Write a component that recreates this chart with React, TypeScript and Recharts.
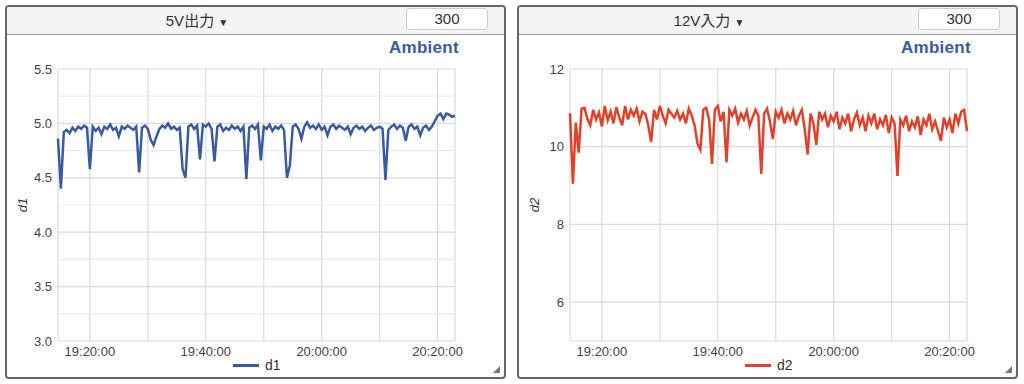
import React from "react";
import {
  LineChart,
  Line,
  XAxis,
  YAxis,
  CartesianGrid,
  ReferenceLine,
} from "recharts";

// sampling: one reading every 30 s starting 19:14:30
const startClock = "19:14:30";
const stepSeconds = 30;

const d1Values = [
  4.86, 4.4, 4.92, 4.94, 4.91, 4.96, 4.93, 4.97, 4.95, 4.98,
  4.96, 4.58, 4.97, 4.93, 4.96, 4.9, 4.97, 4.95, 4.99, 4.94,
  4.96, 4.88, 4.97, 4.95, 4.98, 4.96, 4.94, 4.97, 4.55, 4.96,
  4.98, 4.95, 4.85, 4.8, 4.88, 4.95, 4.98, 4.96, 5.0, 4.95,
  4.97, 4.94, 4.96, 4.58, 4.5, 4.97, 4.99, 4.95, 4.98, 4.67,
  4.99, 4.97, 5.0, 4.95, 4.65, 4.97, 4.99, 4.93, 4.96, 4.94,
  4.98, 4.95, 4.97, 4.93, 4.97, 4.49, 4.96, 4.98, 4.95, 4.99,
  4.66, 4.97, 4.95, 4.99, 4.93, 4.97, 4.95, 4.98, 4.94, 4.5,
  4.61, 4.97, 4.99, 4.95, 4.86, 4.97, 5.01, 4.96, 4.98, 4.95,
  4.99, 4.94, 4.97, 4.89, 4.97, 4.99, 4.95, 4.98, 4.96, 4.94,
  4.97, 4.9, 4.96, 4.98, 4.95, 4.97, 4.93, 4.96, 4.98, 4.94,
  4.96, 4.97, 4.95, 4.48, 4.94, 4.97, 4.99, 4.95, 4.98, 4.96,
  4.84, 4.97, 4.99, 4.95, 4.97, 4.89, 4.96, 4.98, 4.94, 4.97,
  5.02, 5.07, 5.09, 5.04, 5.09, 5.08, 5.06, 5.07,
];

const d2Values = [
  10.86, 9.05, 10.62, 9.85, 10.98, 11.0, 10.72, 10.55, 10.95, 10.7,
  10.88, 10.52, 11.05, 10.68, 10.9, 10.6, 11.02, 10.75, 10.55, 11.05,
  10.7, 10.95, 10.8, 10.98, 10.65, 10.9, 10.85, 10.55, 10.12, 10.95,
  10.7, 11.05, 10.8, 10.6, 10.95, 10.85, 10.75, 10.92, 10.7, 10.85,
  10.6, 10.98, 10.8, 10.55, 10.08, 9.92, 10.95, 11.0, 10.7, 9.56,
  10.95, 11.05, 10.65, 10.9, 9.6, 10.95, 10.8, 10.98, 10.62, 10.85,
  10.7, 10.92, 10.55, 10.75, 10.95, 10.8, 9.3, 10.85, 10.98, 10.65,
  10.2, 10.9, 10.75, 10.95, 10.6, 10.85, 10.7, 10.92, 10.55, 10.8,
  10.95, 10.45, 9.8, 10.85, 10.6, 10.05, 10.9, 10.7, 10.85, 10.5,
  10.8, 10.65, 10.9, 10.45, 10.75, 10.6, 10.85, 10.4, 10.7, 10.88,
  10.55, 10.75, 10.4, 10.8, 10.6, 10.85, 10.45, 10.7, 10.55, 10.82,
  10.35, 10.75, 10.6, 9.25, 10.7, 10.55, 10.8, 10.4, 10.65, 10.5,
  10.78, 10.3, 10.7, 10.55, 10.85, 10.45, 10.65, 10.4, 10.15, 10.75,
  10.5, 10.7, 10.35, 10.85, 10.6, 10.9, 10.95, 10.4,
];

const gridClocks = ["19:20", "19:30", "19:40", "19:50", "20:00", "20:10", "20:20"];
const labelClocks = ["19:20", "19:40", "20:00", "20:20"];

const d1Ticks = [3.0, 3.5, 4.0, 4.5, 5.0, 5.5];
const d1Minor = [3.25, 3.75, 4.25, 4.75, 5.25];
const d2Ticks = [6, 8, 10, 12];

const toMinutes = (clock: string) => {
  const [h, m, s] = clock.split(":").map(Number);
  return h * 60 + m + (s || 0) / 60;
};

const startMin = toMinutes(startClock);
const xTicks = gridClocks.map(toMinutes);
const xLabels = labelClocks.map(toMinutes);

const fmtClock = (v: number) => {
  if (!xLabels.some((l) => Math.abs(l - v) < 1e-6)) return "";
  const h = Math.floor(v / 60);
  const m = Math.round(v - h * 60);
  return `${h}:${String(m).padStart(2, "0")}:00`;
};

const FONT = "'Liberation Sans', Arial, 'Noto Sans CJK JP', sans-serif";

interface PanelProps {
  left: number;
  title: string;
  name: string;
  values: number[];
  color: string;
  domain: [number, number];
  ticks: number[];
  minor: number[];
  tickFmt: (v: number) => string;
}

const Panel: React.FC<PanelProps> = ({ left, title, name, values, color, domain, ticks, minor, tickFmt }) => {
  const data = values.map((v, i) => ({ t: startMin + (i * stepSeconds) / 60, [name]: v }));
  return (
    <div style={{
      position: "absolute", left, top: 5, width: 501, height: 374,
      boxSizing: "border-box", border: "2px solid #666", borderRadius: 4,
      background: "#fff", overflow: "hidden", fontFamily: FONT,
    }}>
      <div style={{
        position: "absolute", left: 0, top: 0, width: 497, height: 27,
        background: "#f4f4f4", borderBottom: "1px solid #9a9a9a",
      }}>
        <div style={{
          position: "absolute", left: 0, width: 380, top: 4, textAlign: "center",
          fontSize: 15, color: "#333", lineHeight: "20px",
        }}>
          {title} <span style={{ fontSize: 10 }}>▼</span>
        </div>
        <div style={{
          position: "absolute", left: 399, top: 1, width: 82, height: 22,
          boxSizing: "border-box", background: "#fff", border: "1px solid #ccc",
          borderRadius: 4, textAlign: "center", fontSize: 15, lineHeight: "20px", color: "#333",
        }}>
          300
        </div>
      </div>
      <div style={{
        position: "absolute", right: 45, top: 31, fontSize: 17, fontWeight: "bold",
        color: "#3a5b9b", lineHeight: "20px", letterSpacing: 0.3,
      }}>
        Ambient
      </div>
      <div style={{ position: "absolute", left: 0, top: 28 }}>
        <LineChart width={497} height={340} data={data}
          margin={{ top: 34, right: 49, left: 0, bottom: 4 }}>
          <CartesianGrid stroke="#dadada" strokeWidth={1.2} />
          {minor.map((m) => (
            <ReferenceLine key={m} y={m} stroke="#ececec" strokeWidth={1.2} />
          ))}
          <XAxis
            dataKey="t"
            type="number"
            domain={["dataMin", "dataMax"]}
            ticks={xTicks}
            tickFormatter={fmtClock}
            interval={0}
            axisLine={false}
            tickLine={false}
            tickMargin={0}
            height={30}
            tick={{ fill: "#444", fontSize: 13, fontFamily: FONT }}
          />
          <YAxis
            domain={domain}
            ticks={ticks}
            tickFormatter={tickFmt}
            width={51}
            axisLine={false}
            tickLine={false}
            tickMargin={0}
            tick={{ fill: "#444", fontSize: 13, fontFamily: FONT }}
            label={{
              content: (p: any) => {
                const vb = p.viewBox || {};
                const x = (vb.x || 0) + 15;
                const y = (vb.y || 0) + (vb.height || 0) / 2;
                return (
                  <text x={x} y={y} transform={`rotate(-90 ${x} ${y})`} textAnchor="middle"
                    dominantBaseline="central" fontSize={13} fontStyle="italic" fill="#333"
                    fontFamily={FONT}>
                    {name}
                  </text>
                );
              },
            }}
          />
          <Line
            type="linear"
            dataKey={name}
            stroke={color}
            strokeWidth={2.5}
            dot={false}
            isAnimationActive={false}
          />
        </LineChart>
      </div>
      <div style={{
        position: "absolute", left: 226, top: 350, display: "flex", alignItems: "center",
        fontSize: 14, color: "#333", lineHeight: "16px",
      }}>
        <span style={{ display: "inline-block", width: 26, height: 3, background: color, marginRight: 6 }} />
        {name}
      </div>
      <div style={{
        position: "absolute", right: 4, bottom: 4, width: 0, height: 0,
        borderLeft: "7px solid transparent", borderBottom: "7px solid #777",
      }} />
    </div>
  );
};

export default function App() {
  return (
    <div style={{ position: "absolute", left: 0, top: 0, width: 1024, height: 384, background: "#fff" }}>
      <Panel left={5} title="5V出力" name="d1" values={d1Values} color="#3a5ba0"
        domain={[3, 5.5]} ticks={d1Ticks} minor={d1Minor} tickFmt={(v) => v.toFixed(1)} />
      <Panel left={517} title="12V入力" name="d2" values={d2Values} color="#e0412a"
        domain={[5, 12]} ticks={d2Ticks} minor={[]} tickFmt={(v) => String(v)} />
    </div>
  );
}
